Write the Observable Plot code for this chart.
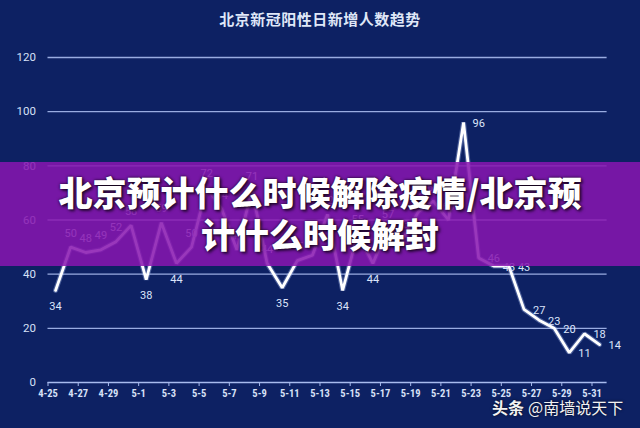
<!DOCTYPE html>
<html>
<head>
<meta charset="utf-8">
<script src="https://cdn.jsdelivr.net/npm/d3@7"></script>
<script src="https://cdn.jsdelivr.net/npm/@observablehq/plot@0.6"></script>
<style>
  html, body { margin: 0; padding: 0; background: #0d2163; }
  #wrap { position: relative; width: 640px; height: 428px; background: #0d2163; overflow: hidden; font-family: "Noto Sans CJK SC", "Noto Sans", sans-serif; }
  #title { position: absolute; top: 8px; left: 0; width: 640px; text-align: center; color: #dfe7f8; font-size: 15px; font-weight: 700; letter-spacing: 0.5px; }
  #chart { position: absolute; top: 0; left: 0; }
  #banner { position: absolute; top: 162px; left: 0; width: 640px; height: 104px; background: rgba(136, 22, 176, 0.86); color: #fff; text-align: center; font-size: 34px; font-weight: 900; line-height: 42px; padding-top: 9px; box-sizing: border-box; text-shadow: 0 0 3px rgba(0,0,0,0.85), 2px 2px 3px rgba(0,0,0,0.6); }
  #wm { position: absolute; left: 492px; top: 395px; color: #f2f2f2; font-size: 16px; white-space: nowrap; text-shadow: 0 0 3px rgba(0,0,0,0.8); }
  #wm b { font-weight: 700; margin-right: 4px; }
</style>
</head>
<body>
<div id="wrap">
  <div id="chart"></div>
  <div id="title">北京新冠阳性日新增人数趋势</div>
  <div id="banner">北京预计什么时候解除疫情/北京预<br>计什么时候解封</div>
  <div id="wm"><b>头条</b>@南墙说天下</div>
</div>
<script>
// Dates (4-25 .. 5-31)
const dates = ["4-25","4-26","4-27","4-28","4-29","4-30","5-1","5-2","5-3","5-4","5-5","5-6","5-7","5-8","5-9","5-10","5-11","5-12","5-13","5-14","5-15","5-16","5-17","5-18","5-19","5-20","5-21","5-22","5-23","5-24","5-25","5-26","5-27","5-28","5-29","5-30","5-31"];
// Daily new positives
const cases = [34,50,48,49,52,58,38,59,44,50,72,64,49,71,44,35,45,47,62,34,55,44,57,53,63,67,60,96,46,43,43,27,23,20,11,18,14];
const yTicks = [0,20,40,60,80,100,120];

const data = cases.map((v, i) => ({i, date: dates[i], v}));
const n = data.length;
const xTickPos = d3.range(0, n, 2).map(i => i - 0.5);

function place(d) {
  const i = d.i, v = d.v;
  const prev = i > 0 ? cases[i-1] : Infinity;
  const next = i < n-1 ? cases[i+1] : Infinity;
  if (i >= 27) return "right";
  if (v < prev && v < next && v <= 45) return "below";
  return "above";
}
const right = data.filter(d => place(d) === "right");
const below = data.filter(d => place(d) === "below");
const above = data.filter(d => place(d) === "above");

const labelFill = "#dbe4fa";
const gridColor = "#a8bbee";

const chart = Plot.plot({
  width: 640,
  height: 428,
  marginTop: 57,
  marginBottom: 46,
  marginLeft: 47.5,
  marginRight: 33.4,
  style: { background: "transparent", color: "#d3ddf5", fontFamily: "Roboto, 'Liberation Sans', sans-serif" },
  x: { type: "linear", domain: [-0.5, n - 0.5] },
  y: { domain: [0, 120] },
  marks: [
    Plot.ruleY(yTicks.filter(t => t > 0), { stroke: gridColor, strokeWidth: 1.4, strokeOpacity: 0.9 }),
    Plot.ruleY([0], { stroke: gridColor, strokeWidth: 1.6 }),
    Plot.axisY({ ticks: yTicks, tickSize: 0, tickPadding: 12, fontSize: 11.5, fill: "#d6e0f7", label: null }),
    Plot.axisX({ ticks: xTickPos, tickFormat: p => dates[Math.round(p + 0.5)], tickSize: 4, tickPadding: 3, stroke: gridColor, fontSize: 10.5, fontWeight: "bold", fill: "#d6e0f7", label: null, fontFamily: "'Liberation Sans Narrow', 'Roboto Condensed', Roboto, sans-serif" }),
    Plot.line(data, { x: "i", y: "v", stroke: "#bcd0ff", strokeWidth: 5, strokeOpacity: 0.35, strokeLinejoin: "miter" }),
    Plot.line(data, { x: "i", y: "v", stroke: "#ffffff", strokeWidth: 2.8, strokeLinejoin: "miter" }),
    Plot.text(above, { x: "i", y: "v", text: d => String(d.v), dy: -14, fill: labelFill, fontSize: 11 }),
    Plot.text(below, { x: "i", y: "v", text: d => String(d.v), dy: 16, fill: labelFill, fontSize: 11 }),
    Plot.text(right, { x: "i", y: "v", text: d => String(d.v), dx: 9, dy: 1, textAnchor: "start", fill: labelFill, fontSize: 11 })
  ]
});
document.getElementById("chart").appendChild(chart);
</script>
</body>
</html>
